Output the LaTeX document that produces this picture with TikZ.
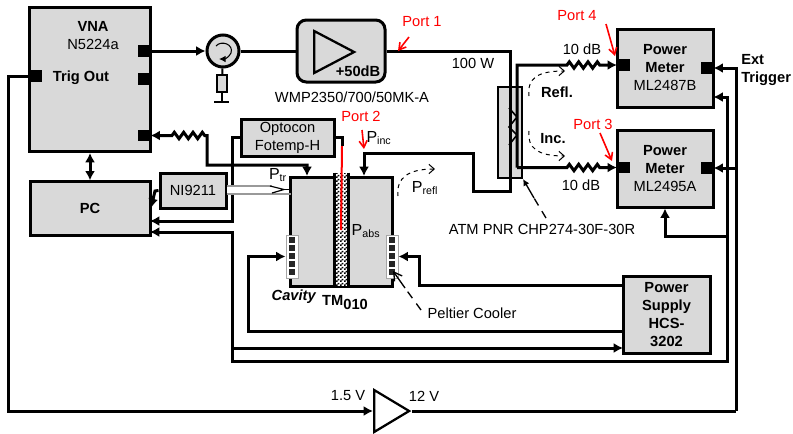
\documentclass[tikz,border=0pt]{standalone}
\usepackage{fontspec}
\setmainfont{Liberation Sans}
\usetikzlibrary{arrows.meta}
\usetikzlibrary{calc}
\usetikzlibrary{patterns}
\usetikzlibrary{shapes.geometric}
\usetikzlibrary{decorations.pathmorphing}
\definecolor{boxgray}{HTML}{D9D9D9}
\pgfdeclarepatternformonly{wallcheck}{\pgfpointorigin}{\pgfqpoint{3pt}{3pt}}{\pgfqpoint{3pt}{3pt}}{
    \pgfpathrectangle{\pgfpointorigin}{\pgfqpoint{1.5pt}{1.5pt}}
    \pgfpathrectangle{\pgfqpoint{1.5pt}{1.5pt}}{\pgfqpoint{1.5pt}{1.5pt}}
    \pgfusepath{fill}
}
\tikzset{
    every node/.style={font=\fontsize{11}{13.5}\selectfont, align=center, inner sep=0pt},
    box/.style={draw, fill=boxgray, line width=2.25pt},
    port/.style={fill=black, minimum width=9.5pt, minimum height=8.5pt},
    wire/.style={line width=2.25pt},
    wirearrow/.style={wire, -{Latex[length=7pt,width=7.5pt]}},
    wirearrows/.style={wire, {Latex[length=7pt,width=7.5pt]}-{Latex[length=7pt,width=7.5pt]}},
    resistor/.style={decoration={zigzag, amplitude=2.4pt, segment length=7pt}},
    flow/.style={dashed, line width=0.75pt, -{Straight Barb[length=4pt,width=7pt]}},
    leader/.style={line width=1pt, dash pattern=on 6pt off 5pt},
    redtip/.style={red, line width=1.2pt, -{Straight Barb[length=5pt,width=6pt]}},
    redtext/.style={text=red},
    peltier/.style={draw=black!35, fill=white, line width=0.75pt, minimum width=9pt, minimum height=32.25pt},
    cell/.style={fill=black!85, minimum width=5pt, minimum height=4.5pt},
}

\begin{document}
\begin{tikzpicture}[x=0.75pt, y=-0.75pt]
    \useasboundingbox (0,0) rectangle (793,433);

    % instruments
    \node[box, minimum width=90.75pt, minimum height=108pt] (vna) at (90,79.5) {};
    \node[box, minimum width=90pt, minimum height=40pt] (pc) at (90,208.5) {\textbf{PC}};
    \node[box, minimum width=49.5pt, minimum height=26.25pt] (ni) at (193,190.5) {NI9211};
    \node[box, minimum width=69.75pt, minimum height=27.75pt] (opto) at (287.5,137.5) {Optocon\\Fotemp-H};
    \node[box, rounded corners=7pt, minimum width=66pt, minimum height=46.5pt] (amp) at (341,51) {};
    \node[box, minimum width=72pt, minimum height=58.5pt] (pma) at (665,68) {\textbf{Power}\\\textbf{Meter}\\ML2487B};
    \node[box, minimum width=72pt, minimum height=57.75pt] (pmb) at (665,168.5) {\textbf{Power}\\\textbf{Meter}\\ML2495A};
    \node[box, minimum width=65.25pt, minimum height=57.75pt] (supply) at (666.5,314.5) {\textbf{Power}\\\textbf{Supply}\\\textbf{HCS-}\\\textbf{3202}};
    \node[box, line width=1.5pt, minimum width=18pt, minimum height=68.25pt] (coupler) at (510,132.5) {};
    \node[box, minimum width=76.5pt, minimum height=81.75pt] (cavity) at (341,231.5) {};

    % ports on the boxes
    \node[port] (vnaout) at (144,51) {};
    \node[port] (vnamid) at (144,79) {};
    \node[port] (vnain) at (144,135.5) {};
    \node[port] (vnatrig) at (36,76) {};
    \node[port] (pmain) at (623.5,65) {};
    \node[port] (pmaext) at (707,68) {};
    \node[port] (pmbin) at (623.5,167.5) {};
    \node[port] (pmbext) at (707,168) {};

    % circulator with its load
    \node[circle, box, minimum size=24pt] (circ) at (223,51) {};
    \node[draw, line width=1.5pt, fill=boxgray, minimum width=7.5pt, minimum height=13pt] (load) at (222,83.5) {};
    \coordinate (gnd) at (222,102);
    \coordinate (gndl) at (214,102);
    \coordinate (gndr) at (229,102);
    \draw[line width=1.5pt] (circ) -- (load);
    \draw[line width=1.5pt] (load) -- (gnd);
    \draw[line width=1.5pt] (gndl) -- (gndr);
    \draw[line width=0.8pt, -{Latex[length=5pt,width=5pt]}] ($(circ)+(-7,-5)$) .. controls ($(circ)+(-2,-11)$) and ($(circ)+(11,-7)$) .. ($(circ)+(8,2)$) .. controls ($(circ)+(6,6)$) and ($(circ)+(2,8)$) .. ($(circ)+(-4,8)$);

    % amplifiers
    \node[draw, isosceles triangle, isosceles triangle stretches, line width=1.7pt, minimum width=31.5pt, minimum height=30pt, anchor=lower side] (ampsym) at (313,52) {};
    \node[draw, fill=white, isosceles triangle, isosceles triangle stretches, line width=1.7pt, minimum width=31.5pt, minimum height=26.25pt, anchor=lower side] (buf) at (373,411) {};

    % coupler arms
    \draw[line width=1.2pt] (509,108) -- (517,117) -- (509,127) -- (517,135) -- (509,145);

    % cavity middle wall and the Peltier elements
    \node[preaction={fill=white}, pattern=wallcheck, minimum width=9.75pt, minimum height=84.75pt] (wall) at (341.5,229.5) {};
    \draw[wire] (wall.north west) -- (wall.south west);
    \draw[wire] (wall.north east) -- (wall.south east);
    \node[peltier] (pell) at (292,256.5) {};
    \node[peltier] (pelr) at (392,256.5) {};
    \foreach \i in {0,...,4}{
        \node[cell] (cl\i) at (292,{240+8*\i}) {};
        \node[cell] (cr\i) at (392,{240+8*\i}) {};
    }

    % bends of the wiring
    \coordinate (mainA) at (510,51);
    \coordinate (mainB) at (510,191);
    \coordinate (mainC) at (473,191);
    \coordinate (mainD) at (473,153);
    \coordinate (cavinc) at (364,176);
    \coordinate (cavtr) at (307,176);
    \coordinate (sideA) at (517,65);
    \coordinate (sideB) at (517,167.5);
    \coordinate (resAa) at (567,65);
    \coordinate (resAb) at (603,65);
    \coordinate (resBa) at (567,167.5);
    \coordinate (resBb) at (603,167.5);
    \coordinate (resCa) at (172,135.5);
    \coordinate (resCb) at (207,135.5);
    \coordinate (trbend) at (207,165);
    \coordinate (trtop) at (307,165);
    \coordinate (optoA) at (232,137.5);
    \coordinate (optoB) at (232,221);
    \coordinate (pcopto) at (150,221);
    \coordinate (pcbus) at (150,232);
    \coordinate (pcni) at (151,208);
    \coordinate (niA) at (155,191);
    \coordinate (busA) at (232,232);
    \coordinate (busB) at (232,361);
    \coordinate (busC) at (727,361);
    \coordinate (busD) at (727,97);
    \coordinate (pmaaux) at (713.5,97);
    \coordinate (busE) at (232,348);
    \coordinate (supin) at (623,348);
    \coordinate (busF) at (727,236);
    \coordinate (busG) at (665,236);
    \coordinate (trigA) at (8,76);
    \coordinate (trigB) at (8,411);
    \coordinate (extA) at (736,411);
    \coordinate (extB) at (736,68);
    \coordinate (extC) at (736,168);
    \coordinate (pelA) at (419,285);
    \coordinate (pelB) at (419,256.5);
    \coordinate (pelC) at (248,331);
    \coordinate (pelD) at (248,256.5);
    \coordinate (supA) at (623,285);
    \coordinate (supB) at (623,331);
    \coordinate (optoC) at (342,137.5);
    \coordinate (optoD) at (342,146);
    \coordinate (optoE) at (341,230);

    % wiring
    \draw[wirearrow] (vnaout) -- (circ);
    \draw[wire] (circ) -- (amp);
    \draw[wirearrow, line join=miter] (amp) -- (mainA) -- (mainB) -- (mainC) -- (mainD) -| (cavinc);
    \draw[wirearrows, resistor] (vnain) -- (resCa) decorate {-- (resCb)} -- (trbend) -- (trtop) -- (cavtr);
    \draw[wirearrow, resistor] (sideB) -- (sideA) -- (resAa) decorate {-- (resAb)} -- (pmain.west);
    \draw[wirearrow, resistor] (sideB) -- (resBa) decorate {-- (resBb)} -- (pmbin.west);
    \draw[wirearrows] (vna) -- (pc);
    \draw[wirearrow] (ni.west) -- (niA) -- (pcni);
    \draw[wirearrow] (opto) -- (optoA) -- (optoB) -- (pcopto);
    \draw[wirearrows] (pcbus) -- (busA) -- (busB) -- (busC) -- (busD) -- (pmaaux);
    \draw[wirearrow] (busE) -- (supin);
    \draw[wirearrow] (busF) -- (busG) -- (pmb);
    \draw[wirearrow] (vnatrig) -- (trigA) -- (trigB) -- (buf.lower side);
    \draw[wire] (buf.apex) -- (extA);
    \draw[wirearrow] (extA) -- (extB) -- (pmaext);
    \draw[wirearrow] (extC) -- (pmbext);
    \draw[wirearrow] (supA) -- (pelA) -- (pelB) -- (pelr);
    \draw[wirearrow] (supB) -- (pelC) -- (pelD) -- (pell);
    \draw[wire] (opto) -- (optoC) -- (optoD);
    \draw[red, line width=1.5pt] (optoD) -- (optoE);

    % thermocouple between cavity and NI9211
    \fill[white] (227,185) rectangle (284,194);
    \draw[black!40, line width=1.5pt] (227,185.5) -- (272,185.5);
    \draw[black!40, line width=1.5pt] (227,193.5) -- (291,193.5);
    \draw[line width=0.9pt] (270,186) -- (284,189.5) -- (272,193);
    \draw[line width=0.9pt] (284,189.5) -- (291,189.5);

    % flow directions and leaders
    \coordinate (reflA) at (529,96);
    \coordinate (reflB) at (565,71);
    \coordinate (incA) at (529,131);
    \coordinate (incB) at (565,156);
    \coordinate (prefA) at (398,196);
    \coordinate (prefB) at (435,169);
    \draw[flow] (reflA) .. controls (527,78) and (538,71) .. (reflB);
    \draw[flow] (incA) .. controls (527,148) and (538,156) .. (incB);
    \draw[flow] (prefA) .. controls (396,178) and (408,169) .. (prefB);
    \coordinate (atmtail) at (546,218);
    \coordinate (atmtip) at (523,179);
    \coordinate (peltail) at (421,310);
    \coordinate (peltip) at (393,271);
    \draw[leader] (atmtail) -- (534,198);
    \draw[line width=1pt, -{Latex[length=5pt,width=5pt]}] (534,198) -- (atmtip);
    \draw[leader] (peltail) -- (405,288);
    \draw[line width=1pt, -{Straight Barb[length=6pt,width=7pt]}] (405,288) -- (peltip);

    % port markers
    \coordinate (pAtail) at (409,37);
    \coordinate (pAtip) at (398,51);
    \coordinate (pBtail) at (362,130);
    \coordinate (pBtip) at (364,149);
    \coordinate (pCtail) at (600,133);
    \coordinate (pCtip) at (612,161);
    \coordinate (pDtail) at (606,24);
    \coordinate (pDtip) at (615,56);
    \draw[redtip] (pAtail) -- (pAtip);
    \draw[redtip] (pBtail) -- (pBtip);
    \draw[redtip] (pCtail) -- (pCtip);
    \draw[redtip] (pDtail) -- (pDtip);

    % labels
    \node (vnatxt) at (93,36) {\textbf{VNA}\\N5224a};
    \node (trigtxt) at (81,78) {\textbf{Trig Out}};
    \node (ampgain) at (358,71) {\textbf{+50dB}};
    \node (ampname) at (352,97) {WMP2350/700/50MK-A};
    \node (hundred) at (473,63) {100 W};
    \node[redtext] (pAtxt) at (422,22) {Port 1};
    \node[redtext] (pBtxt) at (361,116) {Port 2};
    \node[redtext] (pCtxt) at (593,124) {Port 3};
    \node[redtext] (pDtxt) at (577,16) {Port 4};
    \node (dbtop) at (582,49) {10 dB};
    \node (dblow) at (581,185) {10 dB};
    \node (refl) at (557,92) {\textbf{Refl.}};
    \node (inc) at (553,139) {\textbf{Inc.}};
    \node[align=left, anchor=west] (ext) at (741,70) {\textbf{Ext}\\[0.5pt]\textbf{Trigger}};
    \node (ptr) at (278,175) {\fontsize{12}{14}\selectfont P\textsubscript{tr}};
    \node (pinc) at (379,138) {\fontsize{12}{14}\selectfont P\textsubscript{inc}};
    \node (prefl) at (425,188) {\fontsize{12}{14}\selectfont P\textsubscript{refl}};
    \node (pabs) at (366,231) {\fontsize{12}{14}\selectfont P\textsubscript{abs}};
    \node (cavtxt) at (294,297) {\textbf{\textit{Cavity}}};
    \node (tmtxt) at (345,303) {\textbf{TM\raisebox{-3pt}{010}}};
    \node (pelttxt) at (472,313) {Peltier Cooler};
    \node (atmtxt) at (542,229) {ATM PNR CHP274-30F-30R};
    \node (lowv) at (348,396) {1.5 V};
    \node (highv) at (424,396) {12 V};
\end{tikzpicture}
\end{document}
